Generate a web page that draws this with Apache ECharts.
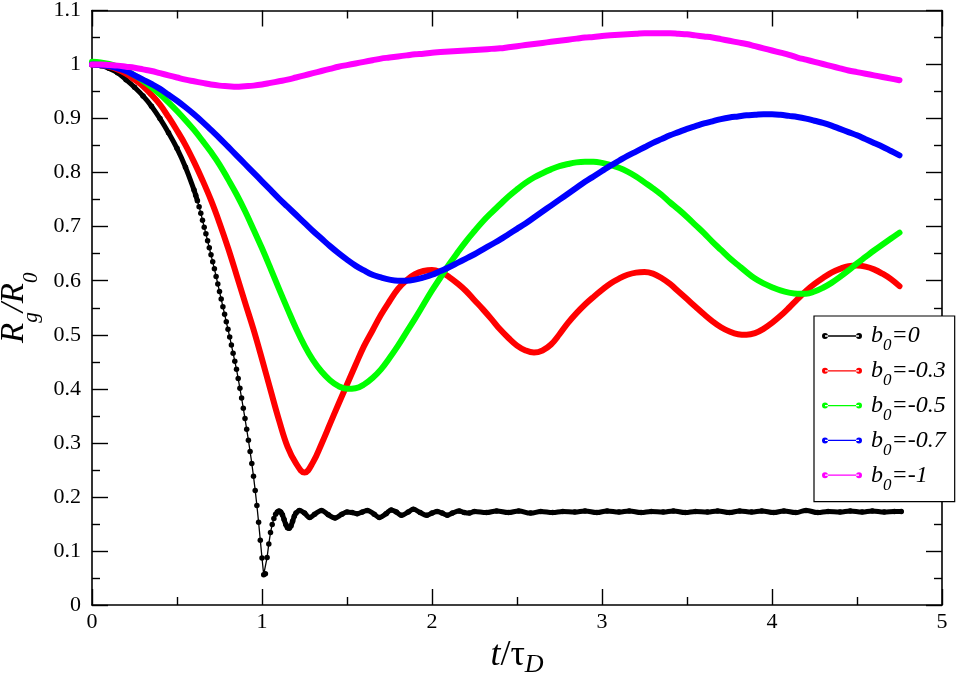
<!DOCTYPE html>
<html>
<head>
<meta charset="utf-8">
<script src="https://cdn.jsdelivr.net/npm/echarts@6/dist/echarts.min.js"></script>
<style>
  html, body { margin: 0; padding: 0; background: #fff; }
  #chart { width: 956px; height: 679px; }
</style>
</head>
<body>
<div id="chart"></div>
<script>
// time grid shared by the four smooth curves (t / tau_D)
const t = [0,0.05,0.1,0.15,0.2,0.25,0.3,0.35,0.4,0.45,0.5,0.55,0.6,0.65,0.7,0.75,0.8,0.85,0.9,0.95,
  1,1.05,1.1,1.15,1.2,1.25,1.3,1.35,1.4,1.45,1.5,1.55,1.6,1.65,1.7,1.75,1.8,1.85,1.9,1.95,
  2,2.05,2.1,2.15,2.2,2.25,2.3,2.35,2.4,2.45,2.5,2.55,2.6,2.65,2.7,2.75,2.8,2.85,2.9,2.95,
  3,3.05,3.1,3.15,3.2,3.25,3.3,3.35,3.4,3.45,3.5,3.55,3.6,3.65,3.7,3.75,3.8,3.85,3.9,3.95,
  4,4.05,4.1,4.15,4.2,4.25,4.3,4.35,4.4,4.45,4.5,4.55,4.6,4.65,4.7,4.75];

// b0 = -0.3
const red = [1.000,0.999,0.996,0.991,0.983,0.972,0.960,0.944,0.926,0.903,
  0.878,0.851,0.820,0.786,0.749,0.707,0.661,0.611,0.560,0.510,
  0.455,0.398,0.342,0.293,0.262,0.245,0.264,0.298,0.335,0.372,
  0.408,0.444,0.479,0.508,0.537,0.562,0.585,0.601,0.612,0.618,
  0.620,0.616,0.607,0.595,0.581,0.564,0.547,0.529,0.510,0.494,
  0.480,0.471,0.467,0.471,0.482,0.501,0.522,0.540,0.556,0.570,
  0.583,0.595,0.604,0.611,0.615,0.616,0.613,0.605,0.594,0.580,
  0.566,0.552,0.538,0.525,0.514,0.506,0.501,0.500,0.503,0.511,
  0.522,0.535,0.550,0.566,0.581,0.594,0.605,0.615,0.622,0.627,
  0.628,0.626,0.621,0.613,0.603,0.590];

// b0 = -0.5
const green = [1.005,1.004,1.001,0.996,0.989,0.980,0.970,0.958,0.945,0.930,
  0.914,0.897,0.879,0.859,0.838,0.815,0.788,0.760,0.729,0.695,
  0.660,0.623,0.585,0.548,0.512,0.480,0.453,0.432,0.416,0.405,
  0.400,0.401,0.408,0.420,0.436,0.457,0.480,0.505,0.530,0.556,
  0.582,0.606,0.630,0.652,0.673,0.692,0.710,0.726,0.741,0.756,
  0.769,0.781,0.791,0.799,0.806,0.812,0.816,0.819,0.820,0.820,
  0.818,0.814,0.809,0.802,0.793,0.782,0.771,0.759,0.745,0.732,
  0.718,0.703,0.688,0.672,0.657,0.642,0.629,0.616,0.604,0.595,
  0.588,0.582,0.578,0.576,0.576,0.580,0.587,0.596,0.607,0.619,
  0.632,0.644,0.656,0.667,0.678,0.689];

// b0 = -0.7
const blue = [1.000,0.999,0.997,0.993,0.988,0.980,0.972,0.964,0.955,0.944,
  0.933,0.921,0.908,0.894,0.879,0.864,0.848,0.832,0.816,0.800,
  0.784,0.768,0.752,0.737,0.722,0.707,0.692,0.678,0.664,0.651,
  0.639,0.628,0.619,0.611,0.606,0.602,0.600,0.600,0.602,0.606,
  0.611,0.618,0.625,0.633,0.641,0.649,0.658,0.667,0.676,0.686,
  0.696,0.706,0.717,0.728,0.739,0.750,0.761,0.772,0.783,0.793,
  0.803,0.813,0.822,0.831,0.839,0.847,0.855,0.862,0.869,0.875,
  0.881,0.886,0.891,0.895,0.899,0.902,0.904,0.906,0.907,0.908,
  0.908,0.907,0.905,0.903,0.900,0.896,0.892,0.887,0.881,0.875,
  0.869,0.862,0.855,0.848,0.840,0.832];

// b0 = -1
const magenta = [1.000,1.000,0.999,0.998,0.996,0.994,0.991,0.988,0.984,0.980,
  0.976,0.972,0.969,0.966,0.963,0.961,0.960,0.959,0.960,0.961,
  0.963,0.966,0.969,0.972,0.976,0.980,0.984,0.988,0.992,0.996,
  0.999,1.002,1.005,1.008,1.011,1.013,1.015,1.017,1.019,1.020,
  1.022,1.023,1.024,1.025,1.026,1.027,1.028,1.029,1.030,1.032,
  1.034,1.036,1.038,1.040,1.042,1.044,1.046,1.048,1.050,1.051,
  1.053,1.054,1.055,1.056,1.057,1.058,1.058,1.058,1.058,1.057,
  1.056,1.054,1.052,1.050,1.047,1.044,1.041,1.038,1.034,1.030,
  1.026,1.022,1.018,1.013,1.009,1.005,1.001,0.997,0.993,0.989,
  0.986,0.983,0.980,0.977,0.974,0.971];

// b0 = 0 has its own sampling (dense around the collapse at t ~ 1)
const blackT = [0,0.05,0.1,0.15,0.2,0.25,0.3,0.35,0.4,0.45,0.5,0.55,0.6,
  0.61,0.62,0.63,0.64,0.65,0.66,0.67,0.68,0.69,0.7,
  0.71,0.72,0.73,0.74,0.75,0.76,0.77,0.78,0.79,0.8,
  0.81,0.82,0.83,0.84,0.85,0.86,0.87,0.88,0.89,0.9,
  0.91,0.92,0.93,0.94,0.95,0.96,0.97,0.98,0.99,1,
  1.01,1.02,1.03,1.04,1.05,1.06,1.07,1.08,1.09,1.1,
  1.11,1.12,1.13,1.14,1.15,1.16,1.17,1.18,1.19,1.2,
  1.22,1.25,1.28,1.31,1.35,1.39,1.43,1.47,1.5,1.53,1.56,1.59,1.62,1.66,1.69,1.73,
  1.76,1.79,1.82,1.86,1.89,1.93,1.97,2,2.03,2.06,2.09,2.12,2.16,2.19,2.22,
  2.25,2.32,2.38,2.45,2.51,2.58,2.64,2.71,2.77,2.84,2.9,2.97,3.03,3.1,3.16,3.23,3.29,3.36,3.42,3.49,
  3.55,3.62,3.68,3.75,3.81,3.88,3.94,4.01,4.07,4.14,4.2,4.27,4.33,4.4,4.46,4.53,4.59,4.66,4.72,4.76];
const blackV = [1.000,0.998,0.993,0.985,0.972,0.958,0.942,0.923,0.900,0.874,0.845,0.810,0.768,
  0.758,0.748,0.737,0.725,0.712,0.699,0.687,0.674,0.661,0.648,
  0.635,0.622,0.608,0.594,0.580,0.566,0.552,0.538,0.524,0.510,
  0.496,0.481,0.466,0.451,0.436,0.419,0.401,0.383,0.364,0.345,
  0.325,0.305,0.284,0.262,0.238,0.212,0.184,0.153,0.120,0.087,
  0.056,0.058,0.088,0.113,0.134,0.149,0.160,0.168,0.172,0.174,
  0.172,0.167,0.158,0.149,0.143,0.142,0.146,0.155,0.164,0.170,
  0.175,0.170,0.162,0.168,0.175,0.167,0.161,0.168,0.172,0.171,0.169,0.172,0.175,0.168,0.162,0.169,
  0.176,0.172,0.166,0.172,0.177,0.171,0.166,0.170,0.173,0.170,0.166,0.170,0.174,0.171,0.170,
  0.173,0.171,0.174,0.171,0.174,0.170,0.173,0.171,0.173,0.172,0.174,0.171,0.174,0.172,0.174,0.171,0.173,0.172,0.174,0.171,
  0.173,0.172,0.174,0.171,0.174,0.172,0.174,0.171,0.174,0.171,0.175,0.171,0.173,0.172,0.174,0.172,0.174,0.172,0.173,0.173];

const names = ['b0=0', 'b0=-0.3', 'b0=-0.5', 'b0=-0.7', 'b0=-1'];
const colors = ['#000000', '#ff0000', '#00ff00', '#0000ff', '#ff00ff'];

const font = 'Liberation Serif';
const pairs = (xs, ys) => xs.map((x, i) => [x, ys[i]]);

// the thin dotted look of b0=0 only shows where the curve is steep
const blackThick = blackT.map((x, i) => (x <= 0.62 || x >= 1.09) ? [x, blackV[i]] : [x, '-']);

// subscript: shift the text down by p without growing the line box
const sub = p => [p, 0, -p, 0];

function smoothSeries(name, color, ys) {
  return {
    name: name,
    type: 'line',
    data: pairs(t, ys),
    smooth: 0.4,
    symbol: 'circle',
    showSymbol: false,
    itemStyle: { color: color },
    lineStyle: { color: color, width: 6, cap: 'round', join: 'round' },
    z: 3
  };
}

const tickStyle = { color: '#000', width: 1.4 };
const frameLine = { show: true, onZero: false, lineStyle: { color: '#000', width: 1.6 } };

const chart = echarts.init(document.getElementById('chart'));
chart.setOption({
  animation: false,
  backgroundColor: '#fff',
  textStyle: { fontFamily: font },
  grid: { left: 92, right: 14, top: 10.5, bottom: 74, containLabel: false, outerBoundsMode: 'none' },
  xAxis: [
    {
      type: 'value', min: 0, max: 5, interval: 1, position: 'bottom',
      axisLine: frameLine,
      axisTick: { inside: true, length: 16, lineStyle: tickStyle },
      minorTick: { show: true, splitNumber: 2, length: 8, lineStyle: tickStyle },
      splitLine: { show: false },
      axisLabel: { color: '#000', fontSize: 22, fontFamily: font, margin: 6 },
      name: '{i|t}{n|/τ}{s|D}',
      nameLocation: 'middle',
      nameGap: 33,
      nameTextStyle: {
        rich: {
          i: { fontSize: 36, fontStyle: 'italic', fontFamily: font, color: '#000', lineHeight: 36, verticalAlign: 'middle' },
          n: { fontSize: 36, fontFamily: font, color: '#000', lineHeight: 36, verticalAlign: 'middle' },
          s: { fontSize: 26, fontStyle: 'italic', fontFamily: font, color: '#000', lineHeight: 36, verticalAlign: 'middle', padding: sub(9) }
        }
      }
    },
    {
      type: 'value', min: 0, max: 5, interval: 1, position: 'top',
      axisLine: frameLine,
      axisTick: { inside: true, length: 16, lineStyle: tickStyle },
      minorTick: { show: true, splitNumber: 2, length: 8, lineStyle: tickStyle },
      splitLine: { show: false },
      axisLabel: { show: false }
    }
  ],
  yAxis: [
    {
      type: 'value', min: 0, max: 1.1, interval: 0.1, position: 'left',
      axisLine: frameLine,
      axisTick: { inside: true, length: 16, lineStyle: tickStyle },
      minorTick: { show: true, splitNumber: 2, length: 8, lineStyle: tickStyle },
      splitLine: { show: false },
      axisLabel: {
        color: '#000', fontSize: 22, fontFamily: font, margin: 11,
        formatter: v => String(Math.round(v * 10) / 10)
      },
      name: '{i|R}{s|g}{i|/R}{s|0}',
      nameLocation: 'middle',
      nameGap: 61,
      nameTextStyle: {
        rich: {
          i: { fontSize: 33, fontStyle: 'italic', fontFamily: font, color: '#000', lineHeight: 34, verticalAlign: 'middle' },
          s: { fontSize: 21, fontStyle: 'italic', fontFamily: font, color: '#000', lineHeight: 34, verticalAlign: 'middle', padding: sub(17) }
        }
      }
    },
    {
      type: 'value', min: 0, max: 1.1, interval: 0.1, position: 'right',
      axisLine: frameLine,
      axisTick: { inside: true, length: 16, lineStyle: tickStyle },
      minorTick: { show: true, splitNumber: 2, length: 8, lineStyle: tickStyle },
      splitLine: { show: false },
      axisLabel: { show: false }
    }
  ],
  legend: {
    data: names,
    orient: 'vertical',
    left: 814,
    top: 316,
    padding: [8, 9, 8, 8],
    itemWidth: 40,
    itemHeight: 6,
    itemGap: 4.3,
    selectedMode: false,
    icon: 'path://M0,3a3,3 0 1,0 6,0a3,3 0 1,0 -6,0Z M3,2.35H37V3.65H3Z M34,3a3,3 0 1,0 6,0a3,3 0 1,0 -6,0Z',
    itemStyle: { borderWidth: 0 },
    backgroundColor: '#fff',
    borderColor: '#000',
    borderWidth: 1.2,
    borderRadius: 0,
    z: 10,
    formatter: name => '{b|b}{s|0}{i|' + name.slice(2) + '}',
    textStyle: {
      color: '#000',
      rich: {
        b: { fontSize: 24, fontStyle: 'italic', fontFamily: font, color: '#000', lineHeight: 24, verticalAlign: 'middle', padding: [0, 0, 0, 4] },
        s: { fontSize: 17, fontStyle: 'italic', fontFamily: font, color: '#000', lineHeight: 24, verticalAlign: 'middle', padding: sub(10) },
        i: { fontSize: 24, fontStyle: 'italic', fontFamily: font, color: '#000', lineHeight: 24, verticalAlign: 'middle' }
      }
    }
  },
  series: [
    {
      name: names[0],
      type: 'line',
      data: pairs(blackT, blackV),
      smooth: false,
      symbol: 'circle',
      symbolSize: 5.5,
      showSymbol: true,
      showAllSymbol: true,
      itemStyle: { color: colors[0] },
      lineStyle: { color: colors[0], width: 1.3 },
      z: 2
    },
    {
      name: 'b0=0 thick',
      type: 'line',
      data: blackThick,
      smooth: 0.4,
      symbol: 'none',
      connectNulls: false,
      lineStyle: { color: colors[0], width: 5, cap: 'round', join: 'round' },
      z: 2
    },
    smoothSeries(names[1], colors[1], red),
    smoothSeries(names[2], colors[2], green),
    smoothSeries(names[3], colors[3], blue),
    smoothSeries(names[4], colors[4], magenta)
  ]
});
</script>
</body>
</html>
